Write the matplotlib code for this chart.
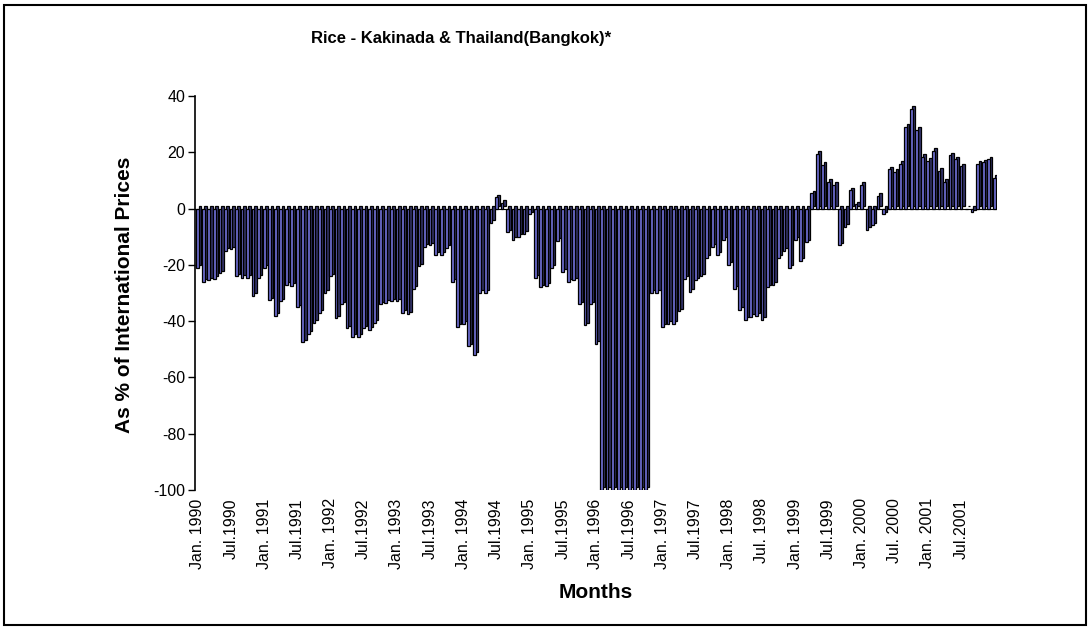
import matplotlib
matplotlib.use('Agg')
import matplotlib.pyplot as plt
from matplotlib.patches import Rectangle
import numpy as np

# Kakinada rice price as % of Thailand (Bangkok) price, monthly Jan 1990 - Jan 2002
valores = [
    # 1990
    -21, -26, -25.5, -25, -23, -15, -14.5, -24, -24.5, -24.5, -31, -24.5,
    # 1991
    -21, -32.5, -38, -33, -27, -27.5, -35, -47.5, -44.5, -40.5, -37, -30,
    # 1992
    -24, -39, -34, -42.5, -45.5, -45.5, -42.5, -43, -40.5, -34, -33.5, -33,
    # 1993
    -33, -37, -37.5, -28.5, -20.5, -13.5, -13, -16.5, -16.5, -14, -26, -42,
    # 1994
    -41, -49, -52, -30, -30, -5, 4, 2, -8.5, -11, -10, -9,
    # 1995
    -2, -24.5, -28, -27.5, -21, -11.5, -22.5, -26, -25.5, -34, -41.5, -34,
    # 1996
    -48, -100, -100, -100, -100, -100, -100, -100, -100, -100, -30, -30,
    # 1997
    -42, -41, -41, -36.5, -25, -29.5, -25.5, -24, -17.5, -13.5, -16.5, -11,
    # 1998
    -20, -28.5, -36, -39.5, -38.5, -38, -39.5, -28, -27, -17.5, -15, -21,
    # 1999
    -11, -18.5, -12, 5.5, 19.5, 15.5, 9.5, 8.5, -13, -6.5, 6.5, 1.5,
    # 2000
    8.5, -7.5, -6, 4.5, -2, 14, 13, 16, 29, 35.5, 28, 18.5,
    # 2001
    17, 20.5, 13.5, 9.5, 19, 17.5, 15, 0, -1.3, 16, 16.5, 17.5,
    # 2002
    11,
]

rotulos = ["Jan. 1990", "Jul.1990", "Jan. 1991", "Jul.1991", "Jan. 1992", "Jul.1992",
           "Jan. 1993", "Jul.1993", "Jan. 1994", "Jul.1994", "Jan. 1995", "Jul.1995",
           "Jan. 1996", "Jul.1996", "Jan. 1997", "Jul.1997", "Jan. 1998", "Jul. 1998",
           "Jan. 1999", "Jul.1999", "Jan. 2000", "Jul. 2000", "Jan. 2001", "Jul.2001"]

plt.rcParams['font.family'] = ['Liberation Sans', 'DejaVu Sans']
plt.rcParams['axes.unicode_minus'] = False

x = np.arange(len(valores))
cor_frente = '#6c6cd0'
cor_lado = '#35356e'
prof = 0.9  # profundidade 3D (unidades do eixo y)

fig = plt.figure(figsize=(10.91, 6.29), dpi=100)
ax = fig.add_axes([195 / 1091, 1 - 490 / 629, 802 / 1091, 394 / 629])

ax.axhline(0, color='black', linewidth=0.8, zorder=1)
# face lateral / topo (sombra 3D)
ax.bar(x + 0.42, valores, width=0.5, bottom=prof, color=cor_lado,
       edgecolor='black', linewidth=0.9, zorder=2)
# face frontal
ax.bar(x, valores, width=0.5, color=cor_frente,
       edgecolor='black', linewidth=0.9, zorder=3)

ax.set_xlim(-0.5, len(valores) - 0.5)
ax.set_ylim(-100, 40)
ax.set_yticks(range(-100, 41, 20))
ax.tick_params(axis='y', direction='out', length=5, width=1, labelsize=11.5, pad=2)
ax.set_xticks(x[::6][:len(rotulos)])
ax.set_xticklabels(rotulos, rotation=90, fontsize=11.5)
ax.tick_params(axis='x', length=0, pad=6)

for lado in ['top', 'right', 'bottom']:
    ax.spines[lado].set_visible(False)
ax.spines['left'].set_linewidth(1.2)

fig.text(461 / 1091, 1 - 38.5 / 629, 'Rice - Kakinada & Thailand(Bangkok)*',
         ha='center', va='center', fontsize=12, fontweight='bold')
fig.text(125 / 1091, 0.532, 'As % of International Prices', rotation=90,
         ha='center', va='center', fontsize=15, fontweight='bold')
fig.text(596 / 1091, 1 - 593 / 629, 'Months', ha='center', va='center',
         fontsize=15, fontweight='bold')

fig.patches.append(Rectangle((0.004, 0.006), 0.991, 0.986, transform=fig.transFigure,
                             fill=False, edgecolor='black', linewidth=1.5))

fig.savefig('out.png', dpi=100)
plt.close(fig)
